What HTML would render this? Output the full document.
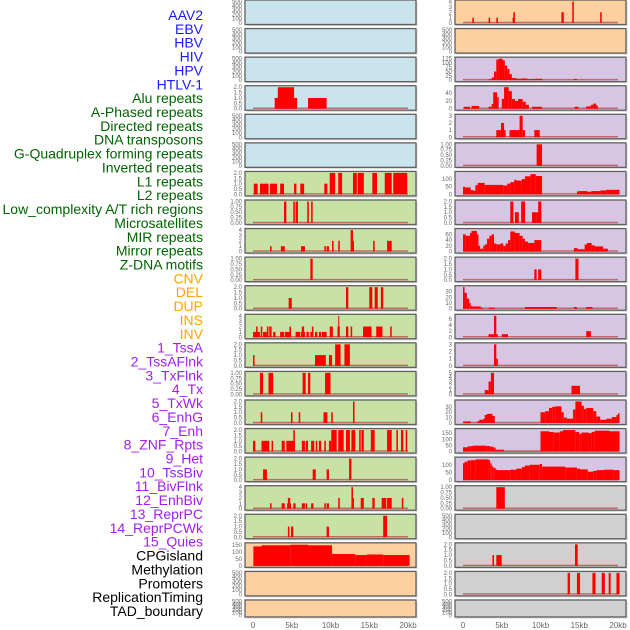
<!DOCTYPE html>
<html><head><meta charset="utf-8"><style>
html,body{margin:0;padding:0;background:#fff;width:630px;height:630px;overflow:hidden}
svg{display:block}
</style></head><body>
<svg id="chart" width="630" height="630" xmlns="http://www.w3.org/2000/svg" font-family="Liberation Sans, sans-serif"></svg>
<script>
// ---- data ----
const trackLabels = ["AAV2","EBV","HBV","HIV","HPV","HTLV-1","Alu repeats","A-Phased repeats","Directed repeats","DNA transposons","G-Quadruplex forming repeats","Inverted repeats","L1 repeats","L2 repeats","Low_complexity A/T rich regions","Microsatellites","MIR repeats","Mirror repeats","Z-DNA motifs","CNV","DEL","DUP","INS","INV","1_TssA","2_TssAFlnk","3_TxFlnk","4_Tx","5_TxWk","6_EnhG","7_Enh","8_ZNF_Rpts","9_Het","10_TssBiv","11_BivFlnk","12_EnhBiv","13_ReprPC","14_ReprPCWk","15_Quies","CPGisland","Methylation","Promoters","ReplicationTiming","TAD_boundary"];
const labelGroups = [0,0,0,0,0,0,1,1,1,1,1,1,1,1,1,1,1,1,1,2,2,2,2,2,3,3,3,3,3,3,3,3,3,3,3,3,3,3,3,4,4,4,4,4];
const xTickValues = [0,5,10,15,20];
const xTickLabels = ["0","5kb","10kb","15kb","20kb"];

const ticksEmpty = [0,100,200,300,400,500];
const ticks2 = [0,0.5,1,1.5,2];
const ticks1 = [0,0.25,0.5,0.75,1];
const ticks4 = [0,1,2,3,4];
const ticks3 = [0,1,2,3];

// segments: [startKb, endKb, value]
const segHIV = [[2.8,5.7,1],[3.2,5.3,2],[7.1,9.5,1]];
const segAlu = [[0.1,0.6,1],[0.9,2.0,1],[2.2,3.1,1],[3.5,4.0,1],[5.3,5.6,1],[6.1,6.6,1],[9.2,9.6,1],[9.9,10.6,2],[11.0,11.5,2],[12.9,13.4,2],[13.5,14.3,2],[15.4,16.0,2],[17.0,17.9,2],[18.1,19.9,2]];
const segAPhased = [[4.0,4.3,1],[5.2,5.4,1],[5.5,5.8,1],[7.0,7.2,1],[7.5,7.7,1]];
const segDirected = [[2.2,2.4,1],[3.6,4.1,1],[6.2,6.7,1],[9.2,9.4,1],[9.5,9.8,1],[10.2,10.4,2],[11.0,11.2,2],[12.6,12.9,4],[12.9,13.0,2],[15.5,15.7,2],[17.3,17.9,2]];
const segDNA = [[7.4,7.7,1]];
const segGQuad = [[4.6,5.0,1],[12.0,12.3,2],[15.0,15.4,2],[15.7,16.1,2],[16.5,16.8,2]];
const segInverted = [[0,0.9,1],[0.4,0.6,2],[1.0,1.2,2],[1.3,1.8,1],[1.8,2.0,2],[2.1,2.4,2],[2.6,2.9,1],[3.5,4.0,1],[4.1,4.9,1],[4.7,4.9,2],[5.5,6.1,1],[6.2,6.7,1],[6.3,6.6,2],[6.9,7.2,1],[7.4,7.8,1],[7.6,7.8,2],[8.0,8.3,1],[8.5,8.8,1],[8.9,9.5,1],[9.9,10.3,2],[10.9,11.2,2],[11.0,11.1,4],[12.0,12.3,2],[12.6,12.8,2],[14.2,15.3,2],[15.9,16.7,2],[17.7,17.9,2]];
const segL1 = [[0,0.2,1],[8.0,9.4,1],[9.8,10.2,1],[10.6,11.3,2],[11.8,12.5,2]];
const segL2 = [[0.9,1.3,1],[2.0,2.6,1],[6.4,6.8,1],[7.1,7.4,1],[9.3,10.0,1]];
const segLowComp = [[1.0,1.2,1],[4.9,5.1,1],[5.9,6.1,1],[9.1,9.6,1],[10.1,10.3,1],[12.9,13.1,2]];
const segMicro = [[0,0.3,1],[1.1,2.1,1],[2.4,2.6,1],[3.7,4.1,1],[4.3,5.4,1],[5.2,5.4,2],[6.3,6.7,1],[6.8,7.1,1],[7.5,7.9,1],[8.1,8.3,1],[8.5,8.8,1],[9.2,9.4,1],[9.8,10.1,1],[10.1,10.8,2],[11.0,11.7,2],[12.0,12.5,2],[12.7,13.2,2],[13.7,13.9,2],[14.0,14.3,2],[15.2,15.7,2],[17.3,17.9,2],[18.5,18.7,2],[19.1,19.4,2],[19.7,19.9,2]];
const segMIR = [[1.3,1.8,1],[7.7,8.1,1],[9.5,9.8,1],[12.4,12.7,2]];
const segMirror = [[2.2,2.4,1],[3.7,4.1,1],[4.4,4.9,1],[4.5,4.8,2],[5.2,5.5,1],[6.3,6.7,1],[6.8,7.0,1],[7.5,7.8,1],[9.2,9.4,1],[9.5,9.8,1],[11.0,11.2,2],[12.7,12.9,4],[12.9,13.0,2],[13.9,14.3,2],[15.4,15.7,2],[16.6,17.2,2],[17.3,17.9,2],[19.2,19.4,2]];
const segZDNA = [[4.5,4.7,1],[4.9,5.2,1],[9.5,9.8,1],[16.8,17.3,2]];
const segCNV = [[0.05,1.1,140],[1.1,4.8,148],[4.8,7.1,152],[7.1,10.2,148],[10.2,13.2,85],[13.2,14.7,78],[14.7,16.8,82],[16.8,20.2,78]];
const segINS = [[1.2,1.4,1],[3.3,3.5,1],[4.3,4.5,1],[6.4,6.5,1],[6.5,6.7,2],[12.7,13.0,2],[14.1,14.3,4],[17.7,17.9,2]];
const segTssA = [[3.3,3.7,5],[3.7,4.0,15],[4.0,4.3,50],[4.3,4.6,120],[4.6,5.1,125],[5.1,5.4,115],[5.4,5.7,85],[5.7,6.0,65],[6.0,6.3,35],[6.3,6.9,12],[6.9,7.6,8],[7.6,8.3,10],[8.3,9.3,6],[9.3,10.2,8],[14.3,14.7,7]];
const segTssAFlnk = [[0.1,0.9,5],[1.1,2.1,7],[3.3,3.7,5],[3.7,3.9,12],[3.9,4.4,42],[4.4,4.6,30],[5.0,5.3,25],[5.3,5.9,55],[5.9,6.3,45],[6.3,6.7,25],[6.7,7.1,20],[7.1,7.7,25],[7.7,8.1,18],[8.1,8.5,10],[8.9,10.2,5],[14.4,14.9,5],[15.9,16.5,6],[16.5,16.8,10],[16.8,17.2,13],[17.2,17.4,8]];
const segTxFlnk = [[4.3,4.9,1],[4.9,5.3,2],[5.3,5.5,1],[6.0,7.3,1],[7.3,7.7,3],[7.7,8.0,1],[9.2,9.9,1]];
const segTx = [[9.5,10.2,1]];
const segTxWk = [[0,0.3,50],[0.3,1.0,45],[1.0,1.3,28],[1.3,1.6,25],[1.6,1.9,60],[1.9,2.8,75],[2.8,5.2,62],[5.2,5.7,58],[5.7,6.1,70],[6.1,6.6,80],[6.6,6.9,95],[6.9,7.6,90],[7.6,8.0,100],[8.0,8.7,118],[8.7,9.4,132],[9.4,10.2,120],[14.7,15.0,20],[15.0,16.0,22],[16.0,16.6,18],[16.6,17.7,22],[17.7,18.5,26],[18.5,20.2,30]];
const segEnhG = [[6.1,6.5,2],[6.7,7.2,1],[7.5,8.0,2],[8.9,9.5,1],[9.5,10.1,1],[9.7,10.1,2]];
const segEnh = [[0,0.35,60],[0.35,0.9,55],[0.9,1.1,65],[1.1,1.8,72],[1.8,2.0,60],[2.0,2.2,20],[2.2,2.6,10],[2.6,2.8,20],[2.8,3.1,25],[3.1,3.4,45],[3.4,3.7,55],[3.7,4.0,60],[4.0,4.3,28],[4.3,4.8,25],[4.8,5.2,28],[5.2,5.5,20],[5.5,5.8,28],[5.8,6.1,40],[6.1,6.7,70],[6.7,7.3,65],[7.3,7.7,55],[7.7,8.0,45],[8.0,8.4,35],[8.4,9.2,30],[9.2,10.1,40],[14.3,14.8,12],[14.8,15.7,8],[15.7,16.0,25],[16.0,16.6,30],[16.6,17.0,22],[17.0,18.1,18],[18.1,18.7,10]];
const segZNF = [[9.2,9.5,1],[9.7,10.1,1],[14.5,14.9,2]];
const segHet = [[0,0.2,38],[0.2,0.5,28],[0.5,0.8,18],[0.8,1.0,10],[1.0,1.1,5],[1.1,2.3,4],[2.3,2.6,2],[3.3,4.1,2],[8.0,12.1,3],[14.3,14.7,3],[15.9,16.7,3]];
const segTssBiv = [[3.3,4.0,1],[4.0,4.3,7],[4.3,4.5,1],[5.0,5.8,1],[15.9,16.5,2]];
const segBivFlnk = [[4.0,4.3,3],[4.3,4.5,1]];
const segEnhBiv = [[2.8,3.3,1],[3.3,3.6,3],[3.6,4.0,5],[14.0,15.1,2]];
const segReprPC = [[0,1.0,3],[1.8,2.1,3],[2.1,2.6,6],[2.6,2.8,8],[2.8,3.1,15],[3.1,3.8,17],[3.8,4.1,13],[10.0,10.6,20],[10.6,11.1,22],[11.1,11.5,28],[11.5,11.9,30],[11.9,12.7,31],[12.7,13.0,20],[13.0,13.4,10],[13.4,14.2,8],[14.2,14.5,25],[14.5,15.3,40],[15.3,15.6,32],[15.6,15.9,26],[15.9,16.8,28],[16.8,17.2,22],[17.2,17.7,12],[17.7,18.5,6],[18.5,19.2,8],[19.2,19.8,11],[19.8,20.0,15],[20.0,20.2,18]];
const segReprPCWk = [[0,0.6,35],[0.6,1.0,42],[1.0,1.3,45],[1.3,3.0,48],[3.0,3.5,45],[3.5,3.9,40],[3.9,4.2,33],[4.2,5.3,15],[5.3,10.0,3],[10.0,11.1,165],[11.1,11.7,160],[11.7,12.5,155],[12.5,12.9,165],[12.9,14.5,175],[14.5,15.0,160],[15.0,15.3,145],[15.3,16.2,155],[16.2,16.6,150],[16.6,17.0,160],[17.0,18.9,170],[18.9,20.2,165]];
const segQuies = [[0,0.2,110],[0.2,0.6,120],[0.6,1.0,128],[1.0,1.6,130],[1.6,3.3,135],[3.3,3.5,130],[3.5,3.7,110],[3.7,3.9,90],[3.9,4.2,80],[4.2,4.3,70],[4.3,6.1,65],[6.1,6.9,68],[6.9,7.6,75],[7.6,8.0,85],[8.0,8.6,95],[8.6,9.9,100],[9.9,10.2,105],[10.2,13.2,88],[13.2,14.7,82],[14.7,15.1,75],[15.1,16.1,70],[16.1,16.8,55],[16.8,17.2,60],[17.2,18.2,65],[18.2,19.4,68],[19.4,20.2,65]];
const segCPG = [[4.3,5.4,1]];
const segPromoters = [[3.8,4.0,1],[4.3,5.0,1],[14.45,14.8,2]];
const segRepTiming = [[13.5,13.8,2],[14.7,15.1,2],[16.7,17.1,2],[17.9,18.3,2],[18.8,19.05,2],[19.8,20.2,2]];

// panel configuration: [column, row, bgIndex, ymax, ticks, segments]
const leftPanels = [
 [0,0,null,500,ticksEmpty,[]],[0,1,null,500,ticksEmpty,[]],[0,2,null,500,ticksEmpty,[]],
 [0,3,null,2,ticks2,segHIV],[0,4,null,500,ticksEmpty,[]],[0,5,null,500,ticksEmpty,[]],
 [1,6,null,2,ticks2,segAlu],[1,7,null,1,ticks1,segAPhased],[1,8,null,4,ticks4,segDirected],
 [1,9,null,1,ticks1,segDNA],[1,10,null,2,ticks2,segGQuad],[1,11,null,4,ticks4,segInverted],
 [1,12,null,2,ticks2,segL1],[1,13,null,1,ticks1,segL2],[1,14,null,2,ticks2,segLowComp],
 [1,15,null,2,ticks2,segMicro],[1,16,null,2,ticks2,segMIR],[1,17,null,4,ticks4,segMirror],
 [1,18,null,2,ticks2,segZDNA],[2,19,null,155,[0,50,100,150],segCNV],
 [2,20,null,500,ticksEmpty,[]],[2,21,null,500,ticksEmpty,[]]
];
const rightPanels = [
 [2,0,null,4,ticks4,segINS],[2,1,null,500,ticksEmpty,[]],
 [3,2,null,125,[0,25,50,75,100,125],segTssA],[3,3,null,55,[0,20,40],segTssAFlnk],
 [3,4,null,3,ticks3,segTxFlnk],[3,5,null,1,ticks1,segTx],
 [3,6,null,140,[0,50,100],segTxWk],[3,7,null,2,ticks2,segEnhG],
 [3,8,null,75,[0,20,40,60],segEnh],[3,9,null,2,ticks2,segZNF],
 [3,10,null,38,[0,10,20,30],segHet],[3,11,null,7,[0,2,4,6],segTssBiv],
 [3,12,null,3,ticks3,segBivFlnk],[3,13,null,5,[0,1,2,3,4,5],segEnhBiv],
 [3,14,null,40,[0,10,20,30],segReprPC],[3,15,null,175,[0,50,100,150],segReprPCWk],
 [3,16,null,140,[0,50,100],segQuies],[4,17,null,1,ticks1,segCPG],
 [4,18,null,500,ticksEmpty,[]],[4,19,null,2,ticks2,segPromoters],
 [4,20,null,2,ticks2,segRepTiming],[4,21,null,500,ticksEmpty,[]]
];

// ---- drawing ----
const NS = "http://www.w3.org/2000/svg";
const svg = document.getElementById("chart");
const bgColors = ["#c9e4ec","#c8e1a5","#fecf9f","#d7c6e3","#d0d0d0"];
const labelColors = ["#1a1aff","#006400","#ffa500","#a020f0","#000000"];
function mk(tag, attrs){ const e=document.createElementNS(NS,tag); for(const k in attrs) e.setAttribute(k,attrs[k]); return e; }
function fmt(v, ticks){
  const mx = ticks[ticks.length-1];
  if (mx===1) return v.toFixed(2);
  if (ticks.some(t=>t%1!==0)) return v.toFixed(1);
  return String(v);
}
// labels
trackLabels.forEach((t,i)=>{
  const el = mk("text",{x:203,y:(20+i*13.86).toFixed(1),"text-anchor":"end","font-size":"14",fill:labelColors[labelGroups[i]]});
  
  
  el.textContent = t;
  svg.appendChild(el);
});
function drawPanel(p, colX, x0px, nameIdx){
  const [bg,row,,ymax,ticks,segs] = p;
  const top = row*28.57;
  const h = row===21 ? 17 : 24.5;
  const W = 171;
  const g = mk("g",{});
  
  
  svg.appendChild(g);
  g.appendChild(mk("rect",{x:colX+1.5,y:top+1.5,width:W,height:h,fill:"#aaa",opacity:"0.5"}));
  g.appendChild(mk("rect",{x:colX,y:top,width:W,height:h,fill:bgColors[bg],stroke:"#606060","stroke-width":"1.3"}));
  const base = top + h - 1.5;
  const ph = h - 3;
  const xs = kb => x0px + kb*7.75;
  const ys = v => base - Math.min(v,ymax)/ymax*ph;
  if (segs.length){
    g.appendChild(mk("line",{x1:xs(0),x2:xs(20),y1:base-0.5,y2:base-0.5,stroke:"#c05050","stroke-width":"1.5",opacity:"0.8"}));
  }
  segs.forEach(s=>{
    const r = mk("rect",{x:xs(s[0]).toFixed(2),y:ys(s[2]).toFixed(2),width:Math.max(1,xs(s[1])-xs(s[0])).toFixed(2),height:(base-ys(s[2])).toFixed(2),fill:"#ff0000"});
    
    
    g.appendChild(r);
  });
  ticks.forEach(t=>{
    const tx = mk("text",{x:colX-3,y:(ys(t)+2).toFixed(2),"text-anchor":"end","font-size":"6",fill:"#666"});
    
    
    tx.textContent = fmt(t,ticks);
    g.appendChild(tx);
  });
}
leftPanels.forEach((p,i)=>drawPanel(p,245,253,i));
rightPanels.forEach((p,i)=>drawPanel(p,455,463,22+i));
// x axes
[[253],[463]].forEach((c,ci)=>{
  xTickValues.forEach((v,i)=>{
    const t = mk("text",{x:(c[0]+v*7.75).toFixed(1),y:628,"text-anchor":"middle","font-size":"8",fill:"#666"});
    
    
    t.textContent = xTickLabels[i];
    svg.appendChild(t);
  });
});
</script>
</body></html>
